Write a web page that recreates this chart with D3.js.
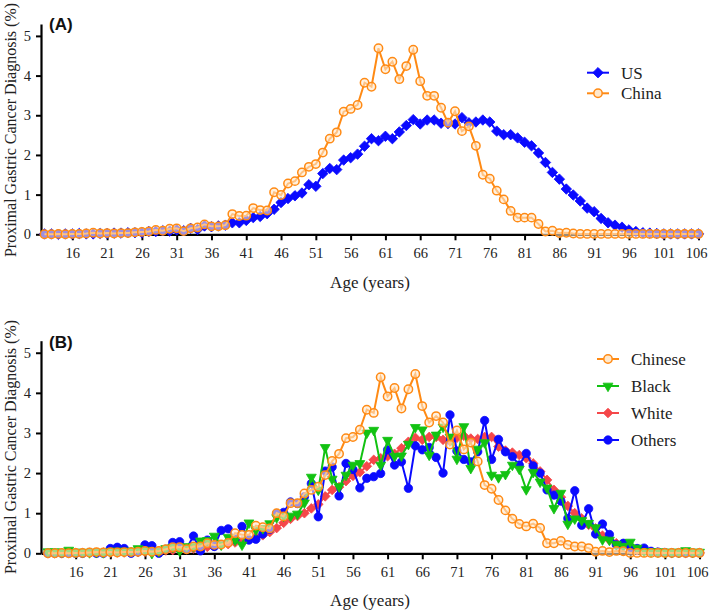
<!DOCTYPE html>
<html><head><meta charset="utf-8">
<script src="https://cdn.jsdelivr.net/npm/d3@7"></script>
<style>body{margin:0;background:#fff}svg{display:block}</style>
</head><body>
<svg id="c" width="709" height="610"></svg>
<script>
const ages = d3.range(12, 107);
const xTicks = [16,21,26,31,36,41,46,51,56,61,66,71,76,81,86,91,96,101,106];
const yTicks = [0,1,2,3,4,5];

const usVals = [0.01,0.01,0.0,0.01,0.01,0.02,0.01,0.01,0.02,
0.02,0.03,0.03,0.04,0.04,0.04,0.07,0.07,0.09,0.08,
0.11,0.09,0.15,0.12,0.21,0.19,0.21,0.23,0.29,0.29,
0.35,0.42,0.45,0.52,0.63,0.80,0.90,0.97,1.04,1.25,
1.21,1.53,1.66,1.63,1.87,1.93,2.02,2.22,2.41,2.36,
2.47,2.41,2.58,2.74,2.89,2.78,2.88,2.88,2.80,2.79,
2.78,2.94,2.81,2.83,2.88,2.83,2.60,2.51,2.51,2.43,
2.32,2.23,2.05,1.81,1.56,1.39,1.14,0.99,0.84,0.66,
0.57,0.40,0.29,0.23,0.18,0.11,0.07,0.04,0.03,0.02,
0.01,0.01,0.01,0.01,0.01,0.01];
const chinaVals = [0.0,0.0,0.01,0.0,0.01,0.01,0.02,0.04,0.02,
0.03,0.02,0.03,0.03,0.05,0.06,0.07,0.11,0.09,0.14,
0.15,0.08,0.15,0.17,0.25,0.20,0.20,0.23,0.51,0.46,
0.47,0.66,0.61,0.60,1.06,0.99,1.28,1.34,1.56,1.70,
1.77,2.06,2.41,2.57,3.09,3.16,3.26,3.82,3.72,4.69,
4.16,4.35,3.91,4.24,4.65,3.86,3.49,3.49,3.19,2.81,
3.10,2.60,2.72,2.23,1.50,1.40,1.10,0.88,0.59,0.42,
0.42,0.42,0.26,0.07,0.09,0.03,0.04,0.02,0.01,0.01,
0.01,0.01,0.01,0.01,0.01,0.01,0.01,0.01,0.01,0.01,
0.01,0.01,0.01,0.01,0.01,0.01];

const chineseVals = [0.0,0.0,0.01,0.0,0.01,0.01,0.02,0.03,0.02,
0.03,0.02,0.03,0.03,0.04,0.06,0.04,0.06,0.10,0.15,
0.15,0.10,0.17,0.17,0.25,0.21,0.22,0.26,0.50,0.46,
0.46,0.69,0.65,0.62,1.00,0.92,1.25,1.25,1.49,1.58,
1.66,1.95,2.30,2.48,2.87,2.90,3.08,3.58,3.50,4.39,
3.91,4.12,3.61,4.09,4.47,3.67,3.26,3.42,3.26,2.71,
3.06,2.59,2.76,2.29,1.70,1.61,1.33,1.07,0.86,0.73,
0.67,0.74,0.63,0.25,0.25,0.31,0.21,0.17,0.17,0.13,
0.04,0.06,0.03,0.06,0.05,0.01,0.01,0.01,0.01,0.01,
0.01,0.01,0.01,0.01,0.01,0.01];
const blackVals = [0.04,0.04,0.03,0.08,0.03,0.03,0.02,0.03,0.02,
0.05,0.06,0.05,0.06,0.12,0.08,0.0,0.05,0.12,0.15,
0.06,0.17,0.17,0.31,0.32,0.43,0.21,0.40,0.33,0.21,
0.76,0.58,0.62,0.74,0.89,0.93,0.93,0.98,1.26,1.90,
1.58,2.64,1.85,1.66,1.95,2.20,2.24,3.00,3.07,2.20,
2.82,2.42,2.43,2.72,3.14,3.08,2.45,2.95,3.15,2.90,
2.35,3.16,2.12,2.60,2.76,1.95,1.89,1.97,2.20,2.10,
1.59,2.02,1.78,1.63,1.12,1.50,0.73,0.86,0.82,0.75,
0.64,0.34,0.33,0.22,0.18,0.28,0.13,0.05,0.04,0.04,
0.03,0.03,0.03,0.07,0.03,0.03];
const whiteVals = [0.0,0.0,0.0,0.01,0.01,0.01,0.01,0.01,0.02,
0.02,0.02,0.02,0.03,0.03,0.04,0.05,0.06,0.07,0.08,
0.09,0.10,0.12,0.14,0.16,0.19,0.21,0.23,0.27,0.30,
0.35,0.40,0.45,0.53,0.63,0.76,0.86,0.93,1.00,1.12,
1.22,1.42,1.58,1.65,1.80,1.93,2.02,2.17,2.33,2.37,
2.42,2.48,2.62,2.78,2.88,2.83,2.90,2.90,2.83,2.80,
2.88,2.93,2.86,2.85,2.90,2.90,2.66,2.56,2.51,2.45,
2.37,2.24,2.04,1.83,1.58,1.40,1.18,1.00,0.87,0.71,
0.62,0.44,0.33,0.25,0.18,0.12,0.08,0.05,0.03,0.02,
0.01,0.01,0.01,0.01,0.01,0.01];
const othersVals = [0.0,0.0,0.0,0.01,0.0,0.0,0.02,0.0,0.0,
0.12,0.15,0.12,0.0,0.04,0.21,0.19,0.0,0.10,0.27,
0.29,0.12,0.43,0.06,0.33,0.17,0.57,0.61,0.35,0.67,
0.33,0.35,0.48,0.60,0.99,1.02,1.28,1.24,1.41,1.74,
0.91,2.05,2.15,1.43,2.24,2.09,1.63,1.87,1.91,1.99,
2.58,2.20,2.28,1.62,2.68,2.58,2.64,2.39,2.00,3.45,
2.55,2.34,2.28,2.53,3.31,2.34,2.84,2.53,2.41,2.20,
2.49,2.18,2.00,1.58,1.45,1.30,0.87,1.56,0.70,1.11,
0.48,0.73,0.47,0.21,0.25,0.14,0.12,0.13,0.05,0.03,
0.02,0.01,0.01,0.01,0.01,0.01];

const svg = d3.select('#c');
const SERIF = "'Liberation Serif','Times New Roman',serif";
const ORANGE = '#ff8a14', BLUE = '#0a0aff', GREEN = '#12c212', RED = '#f5474a';

const symMap = {
  diamond: d3.symbol().type(d3.symbolDiamond2 || d3.symbolDiamond).size(70),
  circle: d3.symbol().type(d3.symbolCircle).size(55),
  tri: d3.symbol().type(d3.symbolTriangle2 || d3.symbolTriangle).size(70),
  rdiamond: d3.symbol().type(d3.symbolDiamond2 || d3.symbolDiamond).size(60)
};

function panel(cfg){
  const x = d3.scaleLinear().domain(cfg.xDom).range([41, cfg.xEnd]);
  const y = d3.scaleLinear().domain([0, 5.3]).range([cfg.y0, cfg.yTop]);
  const g = svg.append('g');
  const xa = g.append('g').attr('transform', `translate(0,${cfg.y0})`)
    .call(d3.axisBottom(x).tickValues(xTicks).tickFormat(d3.format('d')).tickSize(6).tickPadding(4).tickSizeOuter(0));
  const ya = g.append('g').attr('transform', 'translate(41,0)')
    .call(d3.axisLeft(y).tickValues(yTicks).tickFormat(d3.format('d')).tickSize(5).tickPadding(5).tickSizeOuter(0));
  [xa, ya].forEach(a => {
    a.attr('font-family', null);
    a.selectAll('path').attr('stroke', '#000').attr('stroke-width', 2.2);
    a.selectAll('line').attr('stroke', '#000').attr('stroke-width', 2);
    a.selectAll('text').style('font-family', SERIF).attr('font-size', 14.5).attr('fill', '#222');
  });
  xa.selectAll('text').attr('dy', '0.95em').attr('dx', d => d === 106 ? -2.5 : 0);
  cfg.series.forEach(s => {
    const data = ages.map((a, i) => [a, s.vals[i]]);
    g.append('path').datum(data)
      .attr('d', d3.line().x(d => x(d[0])).y(d => y(d[1])))
      .attr('fill', 'none').attr('stroke', s.color).attr('stroke-width', 2);
    g.append('g').selectAll('path').data(data).join('path')
      .attr('transform', d => `translate(${x(d[0])},${y(d[1])})` + (s.sym === 'tri' ? ' rotate(180)' : ''))
      .attr('d', symMap[s.sym]())
      .attr('fill', s.open ? '#ffe8cc' : s.color)
      .attr('fill-opacity', s.open ? 0.6 : 1)
      .attr('stroke', s.color).attr('stroke-width', s.open ? 1.5 : 0.8);
  });
  cfg.legend.forEach((s, i) => {
    const ly = cfg.legY + i * cfg.legStep;
    g.append('line').attr('x1', cfg.legX).attr('x2', cfg.legX + 22).attr('y1', ly).attr('y2', ly)
      .attr('stroke', s.color).attr('stroke-width', 2);
    g.append('path').attr('transform', `translate(${cfg.legX + 11},${ly})` + (s.sym === 'tri' ? ' rotate(180)' : ''))
      .attr('d', symMap[s.sym]())
      .attr('fill', s.open ? '#ffe8cc' : s.color).attr('stroke', s.color).attr('stroke-width', s.open ? 1.5 : 0.8);
    g.append('text').style('font-family', SERIF).attr('x', cfg.legX + 34).attr('y', ly).attr('dy', '0.35em')
      .attr('font-size', 17).attr('fill', '#222').text(s.name);
  });
  g.append('text').attr('x', 49).attr('y', cfg.tagY)
    .style('font-family', "'Liberation Sans',Arial,sans-serif").attr('font-weight', 'bold')
    .attr('font-size', 17).attr('fill', '#111').text(cfg.tag);
  g.append('text').style('font-family', SERIF).attr('x', 370).attr('y', cfg.xLabY)
    .attr('text-anchor', 'middle').attr('font-size', 17).attr('fill', '#222')
    .text('Age (years)');
  g.append('text').style('font-family', SERIF).attr('transform', `translate(${cfg.yLabX},${cfg.yLabCy}) rotate(-90)`)
    .attr('text-anchor', 'middle').attr('dy', '0.35em').attr('font-size', 16).attr('fill', '#222')
    .text('Proximal Gastric Cancer Diagnosis (%)');
}

panel({
  xDom: [11.5, 106.5], xEnd: 702, y0: 234.3, yTop: 24, tag: '(A)', tagY: 30,
  xLabY: 288, yLabX: 10, yLabCy: 130,
  series: [
    {vals: usVals, color: BLUE, sym: 'diamond'},
    {vals: chinaVals, color: ORANGE, sym: 'circle', open: true}
  ],
  legend: [
    {name: 'US', color: BLUE, sym: 'diamond'},
    {name: 'China', color: ORANGE, sym: 'circle', open: true}
  ],
  legX: 587, legY: 72.7, legStep: 20.6
});

panel({
  xDom: [11, 106.5], xEnd: 703, y0: 553.3, yTop: 340.7, tag: '(B)', tagY: 348,
  xLabY: 606, yLabX: 10, yLabCy: 447,
  series: [
    {vals: whiteVals, color: RED, sym: 'rdiamond'},
    {vals: othersVals, color: BLUE, sym: 'circle'},
    {vals: blackVals, color: GREEN, sym: 'tri'},
    {vals: chineseVals, color: ORANGE, sym: 'circle', open: true}
  ],
  legend: [
    {name: 'Chinese', color: ORANGE, sym: 'circle', open: true},
    {name: 'Black', color: GREEN, sym: 'tri'},
    {name: 'White', color: RED, sym: 'rdiamond'},
    {name: 'Others', color: BLUE, sym: 'circle'}
  ],
  legX: 597, legY: 359, legStep: 27
});
</script>
</body></html>
